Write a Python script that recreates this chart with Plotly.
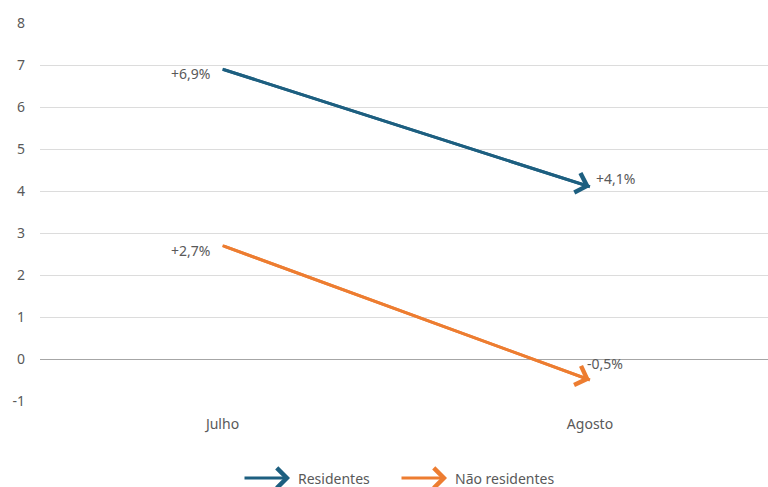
import plotly.graph_objects as go

categories = ["Julho", "Agosto"]
residentes = [6.9, 4.1]
nao_residentes = [2.7, -0.5]
labels_res = ["+6,9%", "+4,1%"]
labels_nres = ["+2,7%", "-0,5%"]
series_names = ["Residentes", "Não residentes"]
colors = ["#1d5f80", "#ed7d31"]
y_tickvals = [-1, 0, 1, 2, 3, 4, 5, 6, 7, 8]
y_ticktext = ["-1", "0", "1", "2", "3", "4", "5", "6", "7", "8"]

FONT = "Noto Sans"
TXT = "#595959"

x_idx = list(range(len(categories)))

fig = go.Figure()
for vals, name, col in [(residentes, series_names[0], colors[0]),
                        (nao_residentes, series_names[1], colors[1])]:
    fig.add_trace(go.Scatter(x=x_idx, y=vals, mode="lines", name=name,
                             line=dict(color=col, width=3), showlegend=False,
                             hoverinfo="skip"))

annotations = []
# arrowheads
for vals, col in [(residentes, colors[0]), (nao_residentes, colors[1])]:
    annotations.append(dict(x=x_idx[1], y=vals[1], ax=x_idx[0], ay=vals[0],
                            xref="x", yref="y", axref="x", ayref="y",
                            text="", showarrow=True, arrowhead=4,
                            arrowsize=1.3, arrowwidth=3, arrowcolor=col))
# data labels
fnt = dict(family=FONT, size=14, color=TXT)
annotations += [
    dict(x=x_idx[0], y=residentes[0], text=labels_res[0], showarrow=False,
         xanchor="right", xshift=-11, yshift=-4, font=fnt),
    dict(x=x_idx[1], y=residentes[1], text=labels_res[1], showarrow=False,
         xanchor="left", xshift=4, yshift=8, font=fnt),
    dict(x=x_idx[0], y=nao_residentes[0], text=labels_nres[0], showarrow=False,
         xanchor="right", xshift=-11, yshift=-5, font=fnt),
    dict(x=x_idx[1], y=nao_residentes[1], text=labels_nres[1], showarrow=False,
         xanchor="left", xshift=-5, yshift=17, font=fnt),
]
# manual legend with arrow symbols
plot_left, plot_right, plot_top, plot_bottom = 40, 768, 23, 401
pw = plot_right - plot_left
ph = plot_bottom - plot_top
def px(xpix):
    return (xpix - plot_left) / pw
def py(ypix):
    return (plot_bottom - ypix) / ph
for tip_x, text_x, name, col in [(290, 296, series_names[0], colors[0]),
                                 (447, 453, series_names[1], colors[1])]:
    annotations.append(dict(x=px(tip_x), y=py(478), xref="paper", yref="paper",
                            ax=-47, ay=0, text="", showarrow=True, arrowhead=4,
                            arrowsize=1.3, arrowwidth=3, arrowcolor=col))
    annotations.append(dict(x=px(text_x), y=py(478), xref="paper", yref="paper",
                            text=name, showarrow=False, xanchor="left",
                            yanchor="middle", font=fnt))

fig.update_layout(
    width=768, height=487,
    margin=dict(l=plot_left, r=768 - plot_right, t=plot_top, b=487 - plot_bottom),
    plot_bgcolor="white", paper_bgcolor="white",
    font=dict(family=FONT, size=14, color=TXT),
    showlegend=False,
    annotations=annotations,
    xaxis=dict(range=[-0.4966, 1.4844], tickmode="array", tickvals=x_idx,
               ticktext=categories, showgrid=False, zeroline=False,
               showline=False, ticks="", ticklabelstandoff=13,
               tickfont=dict(family=FONT, size=14, color=TXT)),
    yaxis=dict(range=[-1, 8], tickmode="array", tickvals=y_tickvals,
               ticktext=y_ticktext, showgrid=True,
               gridcolor="#dcdcdc", gridwidth=1, zeroline=True,
               zerolinecolor="#a6a6a6", zerolinewidth=1, showline=False,
               ticks="", ticklabelstandoff=14,
               tickfont=dict(family=FONT, size=14, color=TXT)),
)

fig.write_html("out.html", config={"displayModeBar": False},
               post_script="document.body.style.margin='0';document.body.style.overflow='hidden';")
